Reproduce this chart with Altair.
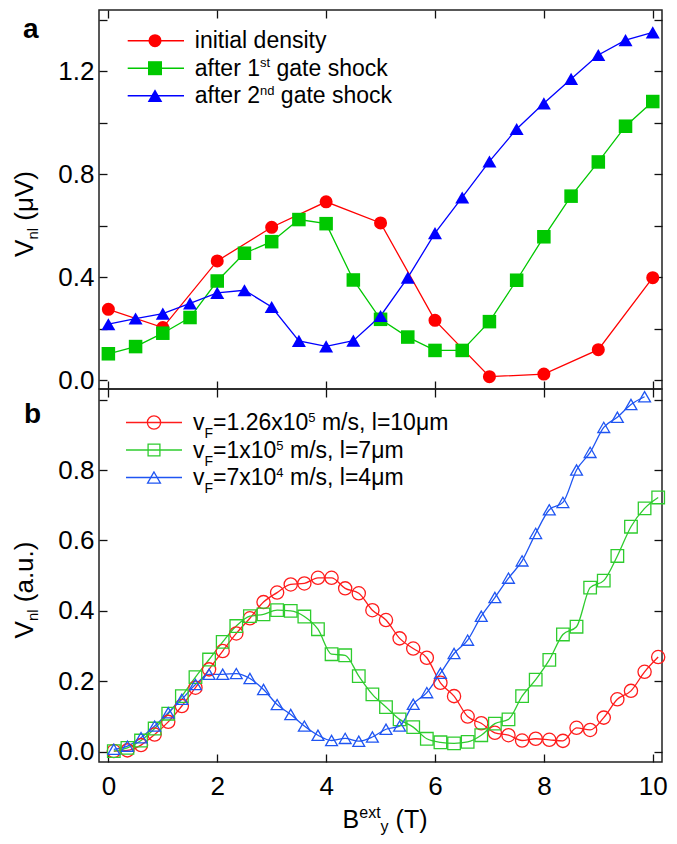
import altair as alt
import pandas as pd

FONT = "Liberation Sans"

# ---------------- data ----------------
top_x_full = [0, 1, 2, 3, 4, 5, 6, 7, 8, 9, 10]
top_x_half = [0, 0.5, 1, 1.5, 2, 2.5, 3, 3.5, 4, 4.5, 5, 5.5, 6, 6.5, 7, 7.5, 8, 8.5, 9, 9.5, 10]
top_red = [0.275, 0.204, 0.463, 0.594, 0.693, 0.611, 0.232, 0.013, 0.023, 0.118, 0.398]
top_green = [0.102, 0.130, 0.182, 0.243, 0.385, 0.493, 0.538, 0.624, 0.608, 0.389, 0.236,
             0.167, 0.115, 0.115, 0.227, 0.388, 0.557, 0.715, 0.848, 0.987, 1.083]
top_blue = [0.217, 0.239, 0.258, 0.298, 0.339, 0.349, 0.284, 0.152, 0.131, 0.153, 0.249,
            0.398, 0.571, 0.710, 0.850, 0.976, 1.076, 1.171, 1.264, 1.322, 1.352]

bot_x = [0.1, 0.35, 0.6, 0.85, 1.1, 1.35, 1.6, 1.85, 2.1, 2.35, 2.6, 2.85, 3.1, 3.35,
         3.6, 3.85, 4.1, 4.35, 4.6, 4.85, 5.1, 5.35, 5.6, 5.85, 6.1, 6.35, 6.6, 6.85,
         7.1, 7.35, 7.6, 7.85, 8.1, 8.35, 8.6, 8.85, 9.1, 9.35, 9.6, 9.85, 10.1]
bot_red = [0.002, 0.004, 0.019, 0.049, 0.085, 0.130, 0.182, 0.234, 0.286, 0.336, 0.379,
           0.425, 0.452, 0.475, 0.478, 0.494, 0.494, 0.464, 0.450, 0.402, 0.374, 0.322,
           0.293, 0.267, 0.196, 0.158, 0.100, 0.081, 0.054, 0.047, 0.032, 0.037, 0.034,
           0.031, 0.068, 0.062, 0.097, 0.149, 0.173, 0.227, 0.269]
bot_green = [0.002, 0.011, 0.032, 0.066, 0.108, 0.158, 0.212, 0.262, 0.312, 0.357, 0.385,
             0.390, 0.402, 0.400, 0.384, 0.348, 0.277, 0.274, 0.215, 0.163, 0.127, 0.092,
             0.070, 0.037, 0.027, 0.024, 0.028, 0.047, 0.080, 0.092, 0.158, 0.205, 0.261,
             0.333, 0.355, 0.466, 0.486, 0.556, 0.639, 0.691, 0.722]
bot_blue = [0.007, 0.016, 0.040, 0.073, 0.111, 0.149, 0.191, 0.220, 0.220, 0.222, 0.208,
            0.177, 0.134, 0.106, 0.073, 0.047, 0.032, 0.038, 0.030, 0.042, 0.064, 0.073,
            0.135, 0.168, 0.223, 0.279, 0.317, 0.385, 0.438, 0.493, 0.542, 0.620, 0.687,
            0.708, 0.800, 0.850, 0.921, 0.950, 0.986, 1.008]

top_series = ["initial density", "after 1st gate shock", "after 2nd gate shock"]
bot_series = ["l=10um", "l=7um", "l=4um"]

# legend texts as (text, font size, baseline shift) runs
top_legend_text = [
    [("initial density", 23, 0)],
    [("after 1", 23, 0), ("st", 13, -8.5), (" gate shock", 23, 0)],
    [("after 2", 23, 0), ("nd", 13, -8.5), (" gate shock", 23, 0)],
]
bot_legend_text = [
    [("v", 23, 0), ("F", 14, 8), ("=1.26x10", 23, 0), ("5", 13, -8), (" m/s, l=10\u03bcm", 23, 0)],
    [("v", 23, 0), ("F", 14, 8), ("=1x10", 23, 0), ("5", 13, -8), (" m/s, l=7\u03bcm", 23, 0)],
    [("v", 23, 0), ("F", 14, 8), ("=7x10", 23, 0), ("4", 13, -8), (" m/s, l=4\u03bcm", 23, 0)],
]
top_ytitle = [("V", 26, 0), ("nl", 15, 5), (" (\u03bcV)", 26, 0)]
bot_ytitle = [("V", 26, 0), ("nl", 15, 5), (" (a.u.)", 26, 0)]
xtitle = [("B", 25, 0), ("ext", 16, -10), ("y", 16, 4), (" (T)", 25, 0)]

x_ticks = [0, 2, 4, 6, 8, 10]
top_y_ticks = [0, 0.2, 0.4, 0.6, 0.8, 1.0, 1.2, 1.4]
bot_y_ticks = [0, 0.2, 0.4, 0.6, 0.8, 1.0]

top_colors = ["#ff0000", "#00c800", "#0000ff"]
bot_colors = ["#ff1c1c", "#2ecc2e", "#1f55f2"]
shapes = ["circle", "square", "triangle-up"]
top_sizes = [170, 196, 215]
bot_sizes = [175, 140, 165]

# ---------------- layout constants ----------------
W = 563
H_TOP = 379
H_BOT = 373
X_DOM = [-0.172, 10.17]
TOP_DOM = [-0.035, 1.439]
BOT_DOM = [-0.029, 1.03]
TICK = 8
LABEL_FS = 26
YTITLE_X = -66.2
PAD_LEFT = 3

AW = {' ': 278, '(': 333, ')': 333, ',': 278, '.': 278, '/': 278, '=': 584,
      'B': 667, 'F': 611, 'T': 611, 'V': 667, 'a': 556, 'c': 500, 'd': 556, 'e': 556,
      'f': 278, 'g': 556, 'h': 556, 'i': 222, 'k': 500, 'l': 222, 'm': 833, 'n': 556,
      'o': 556, 'r': 333, 's': 500, 't': 278, 'u': 556, 'v': 500, 'x': 500, 'y': 500,
      '\u03bc': 576}


def tw(s, size):
    return sum(AW.get(c, 556) for c in s) * size / 1000.0


one = alt.Data(values=[{"k": 0}])


def text_run(segments, x0, y0, rotate=False, bold=False):
    out = []
    pos = 0.0
    for txt, size, shift in segments:
        stripped = txt.lstrip(" ")
        pos += tw(txt[: len(txt) - len(stripped)], size)
        if rotate:
            x, y, ang = x0 + shift, y0 - pos, 270
        else:
            x, y, ang = x0 + pos, y0 + shift, 0
        out.append(
            alt.Chart(one).mark_text(
                align="left", baseline="alphabetic", font=FONT, fontSize=size,
                angle=ang, color="black", fontWeight="bold" if bold else "normal"
            ).encode(x=alt.value(x), y=alt.value(y), text=alt.value(stripped))
        )
        pos += tw(stripped, size)
    return out


def run_len(segments):
    return sum(tw(t, s) for t, s, _ in segments)


def axis(orient, values, labels=False, label_expr=None, pad=5, hide_test=None):
    kw = dict(orient=orient, values=values, grid=False, domain=False, title=None,
              tickColor="#111", tickWidth=1.3, tickSize=TICK, offset=-TICK,
              labels=labels, labelFont=FONT, labelFontSize=LABEL_FS, labelColor="black",
              labelPadding=pad, labelFlush=False, labelOverlap=False,
              minExtent=0, maxExtent=200)
    if label_expr:
        kw["labelExpr"] = label_expr
    if hide_test:
        kw["labelFontSize"] = {"condition": {"test": hide_test, "value": 0}, "value": LABEL_FS}
    return alt.Axis(**kw)


def make_df(xs_list, ys_list, names):
    rows = []
    for i, (xs, ys, n) in enumerate(zip(xs_list, ys_list, names)):
        for x, y in zip(xs, ys):
            rows.append({"x": x, "y": y, "s": n, "ord": i})
    return pd.DataFrame(rows)


def panel(df, names, colors, sizes, filled, ydom, yticks, ylab_expr, hide_test, height,
          interp, xlabels, legend_text, leg_rows, leg_geom, letter, letter_pos,
          ytitle, extra):
    xs = alt.Scale(domain=X_DOM, nice=False, zero=False)
    ys = alt.Scale(domain=ydom, nice=False, zero=False)
    col = alt.Color("s:N", scale=alt.Scale(domain=names, range=colors), legend=None)
    lines = alt.Chart(df).mark_line(strokeWidth=1.3, interpolate=interp).encode(
        x=alt.X("x:Q", scale=xs, axis=axis("bottom", x_ticks, labels=xlabels,
                                          label_expr="format(datum.value, 'd')", pad=11)),
        y=alt.Y("y:Q", scale=ys, axis=axis("left", yticks, labels=True,
                                          label_expr=ylab_expr, pad=5, hide_test=hide_test)),
        color=col, detail="s:N",
    )
    pts = alt.Chart(df).mark_point(filled=filled, opacity=1,
                                   strokeWidth=1.0 if filled else 1.3).encode(
        x=alt.X("x:Q", scale=xs, axis=axis("top", x_ticks)),
        y=alt.Y("y:Q", scale=ys, axis=axis("right", yticks)),
        color=col,
        shape=alt.Shape("s:N", scale=alt.Scale(domain=names, range=shapes), legend=None),
        size=alt.Size("s:N", scale=alt.Scale(domain=names, range=sizes), legend=None),
        order=alt.Order("ord:Q"),
    )
    layers = [lines, pts]
    lx0, lx1, mx, tx = leg_geom
    for i, ry in enumerate(leg_rows):
        layers.append(alt.Chart(one).mark_rule(color=colors[i], strokeWidth=1.5).encode(
            x=alt.value(lx0), x2=alt.value(lx1), y=alt.value(ry)))
        layers.append(alt.Chart(one).mark_point(
            filled=filled, opacity=1, color=colors[i], shape=shapes[i], size=sizes[i],
            strokeWidth=1.0 if filled else 1.3).encode(x=alt.value(mx), y=alt.value(ry)))
        layers += text_run(legend_text[i], tx, ry + 7.5)
    layers += text_run([(letter, 28, 0)], letter_pos[0], letter_pos[1], bold=True)
    yt_start = height / 2 + 14.5 + run_len(ytitle) / 2
    layers += text_run(ytitle, YTITLE_X, yt_start, rotate=True)
    layers += extra
    return alt.layer(*layers).resolve_axis(x="independent", y="independent").properties(
        width=W, height=height)


top_df = make_df([top_x_full, top_x_half, top_x_half], [top_red, top_green, top_blue], top_series)
bot_df = make_df([bot_x, bot_x, bot_x], [bot_red, bot_green, bot_blue], bot_series)

top_expr = "round(datum.value * 10) % 4 == 0 ? format(datum.value, '.1f') : ''"
top_hide = "round(datum.value * 10) % 4 != 0"
bot_expr = "datum.value > 0.9 ? '' : format(datum.value, '.1f')"
bot_hide = "datum.value > 0.9"

x_title_layers = text_run(xtitle, 243.6, H_BOT + 66)

top = panel(top_df, top_series, top_colors, top_sizes, True, TOP_DOM, top_y_ticks, top_expr,
            top_hide, H_TOP, "linear", False, top_legend_text, [30.7, 58.2, 85.7],
            (28.7, 85, 56, 95.8), "a", (-76, 27.7), top_ytitle, [])
bot = panel(bot_df, bot_series, bot_colors, bot_sizes, False, BOT_DOM, bot_y_ticks, bot_expr,
            bot_hide, H_BOT, "monotone", True, bot_legend_text, [33.5, 61, 88.5],
            (27, 83, 55, 94), "b", (-75, 33.7), bot_ytitle, x_title_layers)

chart = alt.vconcat(top, bot, spacing=0, bounds="flush").resolve_scale(
    color="independent", shape="independent", size="independent"
).configure_view(stroke="#222", strokeWidth=1.5).properties(
    padding={"left": PAD_LEFT, "top": 0, "right": 0, "bottom": 0}
)

chart.save("out.html", embed_options={"renderer": "svg", "actions": False})
